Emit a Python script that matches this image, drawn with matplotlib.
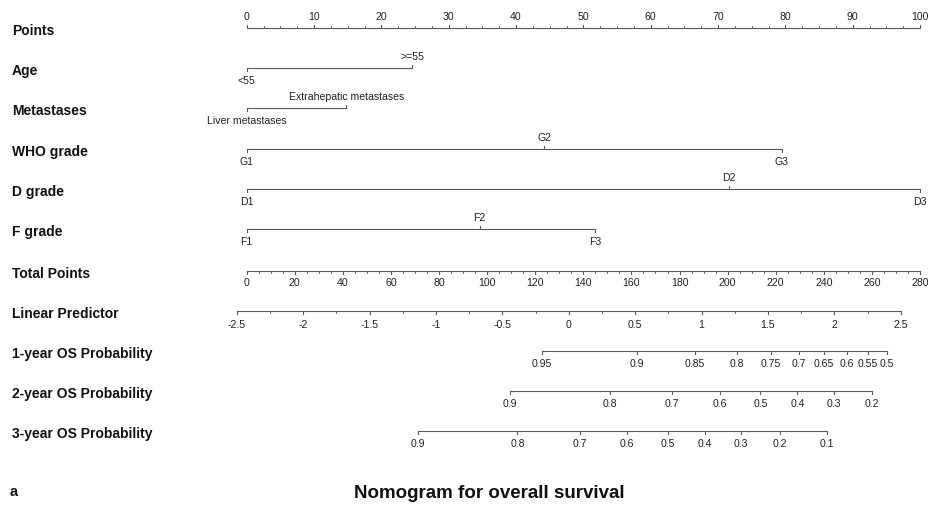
import numpy as np
import matplotlib
matplotlib.use("Agg")
import matplotlib.pyplot as plt

plt.rcParams["font.family"] = ["Liberation Sans", "DejaVu Sans"]

# points given to each level of the predictors
age_levels = ["<55", ">=55"]
age_points = [0, 24.6]
met_levels = ["Liver metastases", "Extrahepatic metastases"]
met_points = [0, 14.8]
who_levels = ["G1", "G2", "G3"]
who_points = [0, 44.2, 79.5]
d_levels = ["D1", "D2", "D3"]
d_points = [0, 71.6, 100]
f_levels = ["F1", "F2", "F3"]
f_points = [0, 34.6, 51.8]

# total points scale and the linear predictor it maps to
total_max = 280
lp_at_zero = -2.425
lp_at_max = 2.645
lp_labels = [-2.5, -2, -1.5, -1, -0.5, 0, 0.5, 1, 1.5, 2, 2.5]

# baseline survival at 1, 2 and 3 years
surv_names = ["1-year OS Probability", "2-year OS Probability", "3-year OS Probability"]
base_surv = [0.939, 0.849, 0.720]
surv_ticks = [
    [0.95, 0.9, 0.85, 0.8, 0.75, 0.7, 0.65, 0.6, 0.55, 0.5],
    [0.9, 0.8, 0.7, 0.6, 0.5, 0.4, 0.3, 0.2],
    [0.9, 0.8, 0.7, 0.6, 0.5, 0.4, 0.3, 0.2, 0.1],
]

W, H = 929, 506
px_per_pt = 6.733
x0 = 246.7

fig = plt.figure(figsize=(W / 100, H / 100), dpi=100)
ax = fig.add_axes([0, 0, 1, 1])
ax.set_xlim(-x0 / px_per_pt, (W - x0) / px_per_pt)
ax.set_ylim(H, 0)
ax.axis("off")

LC = "#5a5a5a"
TC = "#222222"
LW = 0.8
FS = 7.6


def lp_to_points(lp):
    tp = (np.asarray(lp) - lp_at_zero) / (lp_at_max - lp_at_zero) * total_max
    return tp * 100 / total_max


def surv_to_points(s, s0):
    lp = np.log(np.log(np.asarray(s)) / np.log(s0))
    return lp_to_points(lp)


def fmt(v):
    return ("%g" % v)


def scale(y, pos, labels, side, minor=None, major_len=3.5, minor_len=2.0, off=12):
    # straight axis with tick marks pointing towards the labels
    d = -1 if side == "above" else 1
    ax.plot([min(pos), max(pos)], [y, y], color=LC, lw=LW, solid_capstyle="butt")
    if minor is not None:
        for m in minor:
            ax.plot([m, m], [y, y + d * minor_len], color=LC, lw=LW * 0.8)
    for p, lab in zip(pos, labels):
        ax.plot([p, p], [y, y + d * major_len], color=LC, lw=LW)
        ax.text(p, y + d * off, lab, ha="center", va="center", fontsize=FS, color=TC)


def factor(y, pts, levels):
    ax.plot([min(pts), max(pts)], [y, y], color=LC, lw=LW, solid_capstyle="butt")
    for i, (p, lab) in enumerate(zip(pts, levels)):
        d = 1 if i % 2 == 0 else -1
        ax.plot([p, p], [y, y + d * 3.0], color=LC, lw=LW)
        ax.text(p, y + d * 12, lab, ha="center", va="center", fontsize=FS, color=TC)


rows = [29, 69, 109, 149.5, 190, 230, 271.5, 311.7, 351.7, 391.7, 431.7]
names = ["Points", "Age", "Metastases", "WHO grade", "D grade", "F grade",
         "Total Points", "Linear Predictor"] + surv_names
for y, n in zip(rows, names):
    ax.text(12 / W, y + 2, n, transform=ax.get_yaxis_transform(), ha="left",
            va="center", fontsize=10, fontweight="bold", color="#111111")

# Points
pt_major = np.arange(0, 101, 10)
scale(rows[0], pt_major, [fmt(v) for v in pt_major], "above",
      minor=np.arange(0, 100.1, 2.5))

factor(rows[1], age_points, age_levels)
factor(rows[2], met_points, met_levels)
factor(rows[3], who_points, who_levels)
factor(rows[4], d_points, d_levels)
factor(rows[5], f_points, f_levels)

# Total points
tp_major = np.arange(0, total_max + 1, 20)
scale(rows[6], tp_major * 100 / total_max, [fmt(v) for v in tp_major], "below",
      minor=np.arange(0, total_max + 0.1, 5) * 100 / total_max)

# Linear predictor
lp_minor = np.arange(lp_labels[0], lp_labels[-1] + 0.01, 0.25)
scale(rows[7], lp_to_points(lp_labels), [fmt(v) for v in lp_labels], "below",
      minor=lp_to_points(lp_minor), off=13)

# survival probabilities
for k in range(3):
    scale(rows[8 + k], surv_to_points(surv_ticks[k], base_surv[k]),
          [fmt(v) for v in surv_ticks[k]], "below")

ax.text(10 / W, 492, "a", transform=ax.get_yaxis_transform(), ha="left",
        va="center", fontsize=10.5, fontweight="bold", color="#111111")
ax.text(489 / W, 494, "Nomogram for overall survival", transform=ax.get_yaxis_transform(),
        ha="center", va="center", fontsize=13.5, fontweight="bold", color="#111111")

fig.savefig("out.png", dpi=100, facecolor="white")
